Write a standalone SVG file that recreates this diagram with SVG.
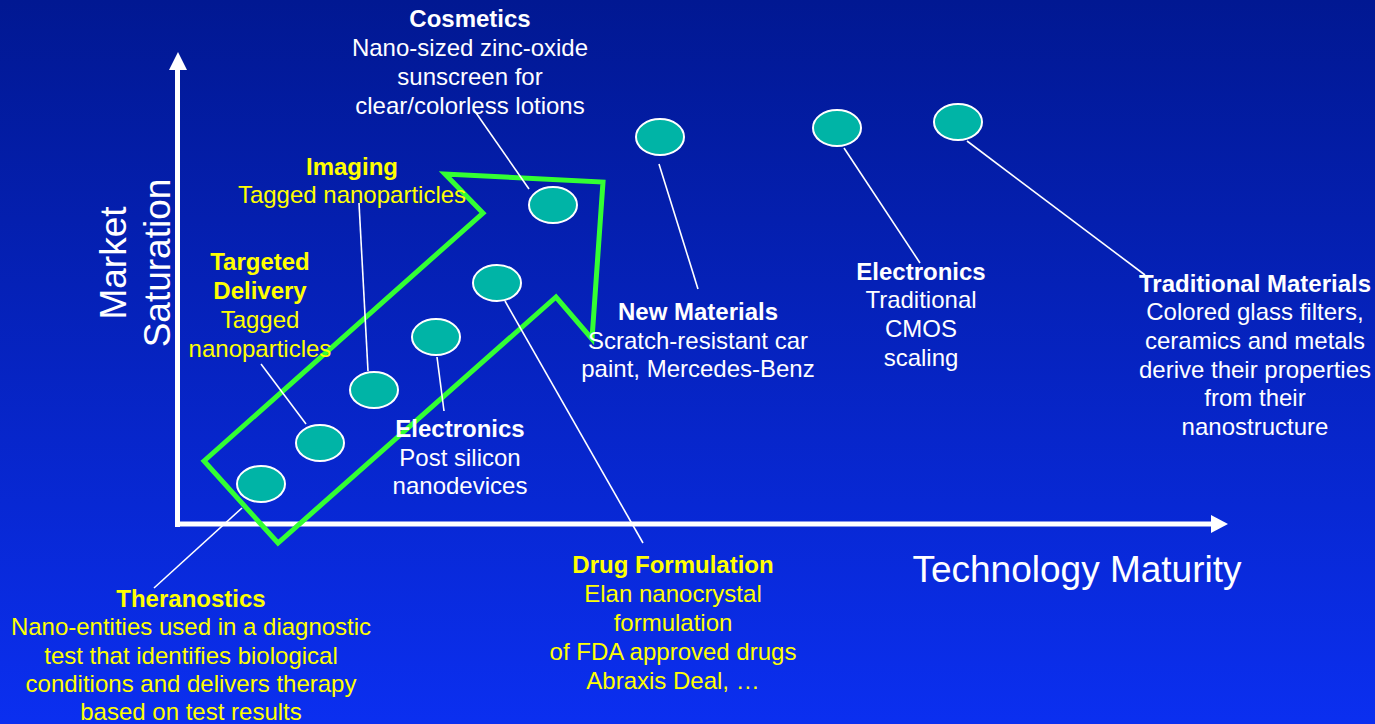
<svg xmlns="http://www.w3.org/2000/svg" width="1375" height="724" viewBox="0 0 1375 724">
<defs>
<linearGradient id="bg" x1="0" y1="0" x2="0" y2="1">
<stop offset="0" stop-color="#011892"/>
<stop offset="1" stop-color="#0b2ff0"/>
</linearGradient>
<style>
text{font-family:"Liberation Sans",Arial,sans-serif;font-size:24px;text-anchor:middle}
.w{fill:#ffffff}
.y{fill:#ffff00}
.b{font-weight:bold}
.big{font-size:37px;fill:#ffffff}
.dot{fill:#00b4a6;stroke:#ffffff;stroke-width:2}
.lead{stroke:#ffffff;stroke-width:1.6;fill:none}
.axis{stroke:#ffffff;stroke-width:5;fill:none}
.head{fill:#ffffff}
</style>
</defs>
<rect x="0" y="0" width="1375" height="724" fill="url(#bg)"/>

<g id="axes">
<line class="axis" x1="177.5" y1="68" x2="177.5" y2="527"/>
<polygon class="head" points="178,52 169,70 187,70"/>
<line class="axis" x1="175" y1="524" x2="1212" y2="524"/>
<polygon class="head" points="1228,524 1211,515 1211,533"/>
<text class="big" transform="translate(126,263) rotate(-90)">Market</text>
<text class="big" transform="translate(170,263) rotate(-90)">Saturation</text>
<text class="big" x="1077" y="582">Technology Maturity</text>
</g>

<g id="trend-arrow">
<polygon points="204,461 483,213 445,174 603,182 592,339 556,297 278,543" fill="none" stroke="#33ff33" stroke-width="5" stroke-linejoin="miter"/>
</g>

<g id="connectors">
<line class="lead" x1="242" y1="508" x2="154" y2="588"/>
<line class="lead" x1="306" y1="424" x2="261" y2="364"/>
<line class="lead" x1="368" y1="371" x2="359" y2="203"/>
<line class="lead" x1="444" y1="411" x2="437" y2="357"/>
<line class="lead" x1="505" y1="301" x2="643" y2="543"/>
<line class="lead" x1="529" y1="189" x2="474" y2="110"/>
<line class="lead" x1="659" y1="164" x2="698" y2="289"/>
<line class="lead" x1="844" y1="148" x2="920" y2="263"/>
<line class="lead" x1="967" y1="141" x2="1145" y2="275"/>
</g>

<g id="theranostics">
<ellipse class="dot" cx="261" cy="484" rx="24" ry="18"/>
<text class="y b" x="191" y="607">Theranostics</text>
<text class="y" x="191" y="635">Nano-entities used in a diagnostic</text>
<text class="y" x="191" y="664">test that identifies biological</text>
<text class="y" x="191" y="692">conditions and delivers therapy</text>
<text class="y" x="191" y="720">based on test results</text>
</g>

<g id="targeted-delivery">
<ellipse class="dot" cx="320" cy="443" rx="24" ry="18"/>
<text class="y b" x="260" y="270">Targeted</text>
<text class="y b" x="260" y="299">Delivery</text>
<text class="y" x="260" y="328">Tagged</text>
<text class="y" x="260" y="357">nanoparticles</text>
</g>

<g id="imaging">
<ellipse class="dot" cx="374" cy="390" rx="24" ry="18"/>
<text class="y b" x="352" y="175">Imaging</text>
<text class="y" x="352" y="203">Tagged nanoparticles</text>
</g>

<g id="electronics-post-silicon">
<ellipse class="dot" cx="436" cy="337" rx="24" ry="18"/>
<text class="w b" x="460" y="437">Electronics</text>
<text class="w" x="460" y="466">Post silicon</text>
<text class="w" x="460" y="494">nanodevices</text>
</g>

<g id="drug-formulation">
<ellipse class="dot" cx="497" cy="283" rx="24" ry="18"/>
<text class="y b" x="673" y="573">Drug Formulation</text>
<text class="y" x="673" y="602">Elan nanocrystal</text>
<text class="y" x="673" y="631">formulation</text>
<text class="y" x="673" y="660">of FDA approved drugs</text>
<text class="y" x="673" y="689">Abraxis Deal, …</text>
</g>

<g id="cosmetics">
<ellipse class="dot" cx="553" cy="205" rx="24" ry="18"/>
<text class="w b" x="470" y="27">Cosmetics</text>
<text class="w" x="470" y="56">Nano-sized zinc-oxide</text>
<text class="w" x="470" y="85">sunscreen for</text>
<text class="w" x="470" y="114">clear/colorless lotions</text>
</g>

<g id="new-materials">
<ellipse class="dot" cx="660" cy="137" rx="24" ry="18"/>
<text class="w b" x="698" y="320">New Materials</text>
<text class="w" x="698" y="349">Scratch-resistant car</text>
<text class="w" x="698" y="377">paint, Mercedes-Benz</text>
</g>

<g id="electronics-cmos">
<ellipse class="dot" cx="837" cy="128" rx="24" ry="18"/>
<text class="w b" x="921" y="280">Electronics</text>
<text class="w" x="921" y="308">Traditional</text>
<text class="w" x="921" y="337">CMOS</text>
<text class="w" x="921" y="366">scaling</text>
</g>

<g id="traditional-materials">
<ellipse class="dot" cx="958" cy="122" rx="24" ry="18"/>
<text class="w b" x="1255" y="292">Traditional Materials</text>
<text class="w" x="1255" y="320">Colored glass filters,</text>
<text class="w" x="1255" y="349">ceramics and metals</text>
<text class="w" x="1255" y="378">derive their properties</text>
<text class="w" x="1255" y="406">from their</text>
<text class="w" x="1255" y="435">nanostructure</text>
</g>
</svg>
